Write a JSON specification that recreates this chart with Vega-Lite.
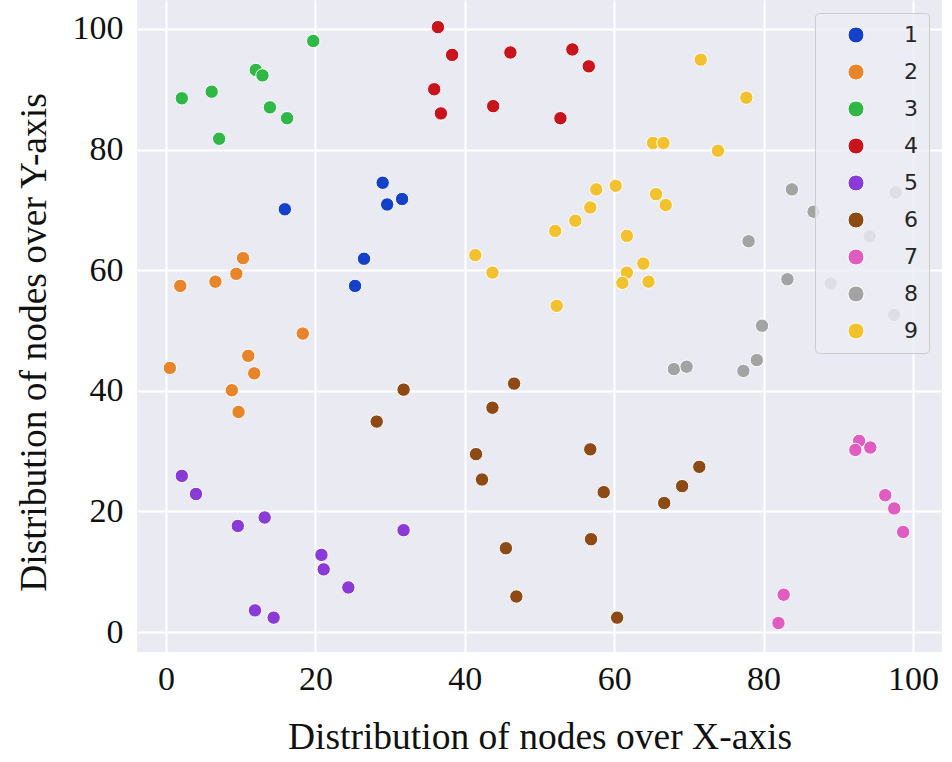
{
  "$schema": "https://vega.github.io/schema/vega-lite/v6.json",
  "width": 805,
  "height": 652,
  "autosize": {"type": "none"},
  "padding": {"left": 137, "top": 0, "right": 10, "bottom": 110},
  "background": "white",
  "config": {
    "view": {"fill": "#eaeaf2", "stroke": null},
    "axis": {
      "grid": true, "gridColor": "white", "gridWidth": 2,
      "domain": false, "ticks": false, "tickSize": 0,
      "labelFont": "Liberation Serif", "labelFontSize": 34, "labelColor": "#111111",
      "titleFont": "Liberation Serif", "titleFontSize": 37.5, "titleFontWeight": "normal", "titleColor": "#111111"
    }
  },
  "data": {"values": [
    {"x": 15.9, "y": 70.1, "c": "1"}, {"x": 29.0, "y": 74.5, "c": "1"}, {"x": 29.6, "y": 70.9, "c": "1"}, {"x": 31.6, "y": 71.8, "c": "1"}, {"x": 26.5, "y": 61.9, "c": "1"}, {"x": 25.3, "y": 57.4, "c": "1"},
    {"x": 1.9, "y": 57.4, "c": "2"}, {"x": 6.6, "y": 58.1, "c": "2"}, {"x": 9.4, "y": 59.4, "c": "2"}, {"x": 10.3, "y": 62.0, "c": "2"}, {"x": 18.3, "y": 49.5, "c": "2"}, {"x": 0.5, "y": 43.8, "c": "2"}, {"x": 11.0, "y": 45.8, "c": "2"}, {"x": 11.8, "y": 42.9, "c": "2"}, {"x": 8.8, "y": 40.1, "c": "2"}, {"x": 9.7, "y": 36.5, "c": "2"},
    {"x": 19.7, "y": 98.0, "c": "3"}, {"x": 12.0, "y": 93.2, "c": "3"}, {"x": 12.9, "y": 92.3, "c": "3"}, {"x": 2.1, "y": 88.5, "c": "3"}, {"x": 6.1, "y": 89.6, "c": "3"}, {"x": 13.9, "y": 87.0, "c": "3"}, {"x": 16.2, "y": 85.2, "c": "3"}, {"x": 7.1, "y": 81.8, "c": "3"},
    {"x": 36.4, "y": 100.3, "c": "4"}, {"x": 38.3, "y": 95.7, "c": "4"}, {"x": 46.1, "y": 96.1, "c": "4"}, {"x": 35.9, "y": 90.0, "c": "4"}, {"x": 36.8, "y": 86.0, "c": "4"}, {"x": 43.8, "y": 87.2, "c": "4"}, {"x": 54.4, "y": 96.6, "c": "4"}, {"x": 56.6, "y": 93.8, "c": "4"}, {"x": 52.8, "y": 85.2, "c": "4"},
    {"x": 2.1, "y": 25.9, "c": "5"}, {"x": 4.0, "y": 22.9, "c": "5"}, {"x": 9.6, "y": 17.6, "c": "5"}, {"x": 13.2, "y": 19.0, "c": "5"}, {"x": 31.8, "y": 16.9, "c": "5"}, {"x": 20.8, "y": 12.8, "c": "5"}, {"x": 21.1, "y": 10.4, "c": "5"}, {"x": 24.4, "y": 7.4, "c": "5"}, {"x": 11.9, "y": 3.6, "c": "5"}, {"x": 14.4, "y": 2.4, "c": "5"},
    {"x": 31.8, "y": 40.2, "c": "6"}, {"x": 46.6, "y": 41.2, "c": "6"}, {"x": 28.2, "y": 34.9, "c": "6"}, {"x": 43.7, "y": 37.2, "c": "6"}, {"x": 41.5, "y": 29.5, "c": "6"}, {"x": 42.3, "y": 25.3, "c": "6"}, {"x": 45.5, "y": 13.9, "c": "6"}, {"x": 46.9, "y": 5.9, "c": "6"}, {"x": 56.8, "y": 30.3, "c": "6"}, {"x": 58.6, "y": 23.2, "c": "6"}, {"x": 66.7, "y": 21.4, "c": "6"}, {"x": 69.1, "y": 24.2, "c": "6"}, {"x": 71.4, "y": 27.4, "c": "6"}, {"x": 56.9, "y": 15.4, "c": "6"}, {"x": 60.4, "y": 2.4, "c": "6"},
    {"x": 92.8, "y": 31.7, "c": "7"}, {"x": 92.3, "y": 30.2, "c": "7"}, {"x": 94.3, "y": 30.6, "c": "7"}, {"x": 96.3, "y": 22.7, "c": "7"}, {"x": 97.5, "y": 20.5, "c": "7"}, {"x": 98.7, "y": 16.6, "c": "7"}, {"x": 82.7, "y": 6.2, "c": "7"}, {"x": 82.0, "y": 1.5, "c": "7"},
    {"x": 83.8, "y": 73.4, "c": "8"}, {"x": 86.7, "y": 69.7, "c": "8"}, {"x": 97.7, "y": 72.9, "c": "8"}, {"x": 78.0, "y": 64.8, "c": "8"}, {"x": 94.2, "y": 65.6, "c": "8"}, {"x": 83.2, "y": 58.5, "c": "8"}, {"x": 89.0, "y": 57.8, "c": "8"}, {"x": 97.5, "y": 52.6, "c": "8"}, {"x": 79.8, "y": 50.8, "c": "8"}, {"x": 68.0, "y": 43.6, "c": "8"}, {"x": 69.7, "y": 44.0, "c": "8"}, {"x": 77.3, "y": 43.3, "c": "8"}, {"x": 79.1, "y": 45.1, "c": "8"},
    {"x": 71.6, "y": 94.9, "c": "9"}, {"x": 77.7, "y": 88.6, "c": "9"}, {"x": 65.2, "y": 81.1, "c": "9"}, {"x": 66.6, "y": 81.1, "c": "9"}, {"x": 73.9, "y": 79.8, "c": "9"}, {"x": 57.6, "y": 73.4, "c": "9"}, {"x": 60.2, "y": 74.0, "c": "9"}, {"x": 65.6, "y": 72.6, "c": "9"}, {"x": 66.9, "y": 70.8, "c": "9"}, {"x": 56.8, "y": 70.4, "c": "9"}, {"x": 54.8, "y": 68.2, "c": "9"}, {"x": 52.1, "y": 66.5, "c": "9"}, {"x": 61.7, "y": 65.7, "c": "9"}, {"x": 63.9, "y": 61.1, "c": "9"}, {"x": 61.7, "y": 59.6, "c": "9"}, {"x": 61.1, "y": 57.9, "c": "9"}, {"x": 64.6, "y": 58.1, "c": "9"}, {"x": 52.3, "y": 54.1, "c": "9"}, {"x": 41.4, "y": 62.5, "c": "9"}, {"x": 43.7, "y": 59.6, "c": "9"}
  ]},
  "mark": {"type": "point", "filled": true, "shape": "circle", "size": 180, "opacity": 1, "stroke": "white", "strokeWidth": 1},
  "encoding": {
    "x": {
      "field": "x", "type": "quantitative",
      "scale": {"domain": [-3.9, 103.9], "nice": false, "zero": false},
      "axis": {"values": [0, 20, 40, 60, 80, 100], "title": "Distribution of nodes over X-axis", "labelPadding": 10, "titlePadding": 22}
    },
    "y": {
      "field": "y", "type": "quantitative",
      "scale": {"domain": [-3.3, 104.8], "nice": false, "zero": false},
      "axis": {"values": [0, 20, 40, 60, 80, 100], "title": "Distribution of nodes over Y-axis", "labelPadding": 14, "titlePadding": 19, "titleY": 342}
    },
    "color": {
      "field": "c", "type": "nominal",
      "scale": {"domain": ["1","2","3","4","5","6","7","8","9"], "range": ["#1540c9","#e8852a","#2fb845","#c8141c","#8a3ad6","#8e4a14","#e05cc0","#a3a3a3","#f2c12e"]},
      "legend": {
        "title": null, "orient": "none", "legendX": 678, "legendY": 13,
        "padding": 11, "symbolOffset": 19, "labelOffset": 37, "rowPadding": 15,
        "symbolType": "circle", "symbolSize": 256, "symbolStrokeColor": "white", "symbolStrokeWidth": 1,
        "labelFont": "DejaVu Sans", "labelFontSize": 22, "labelColor": "#262626",
        "fillColor": "rgba(236,236,244,0.8)", "strokeColor": "#cccccc", "cornerRadius": 4
      }
    }
  }
}
